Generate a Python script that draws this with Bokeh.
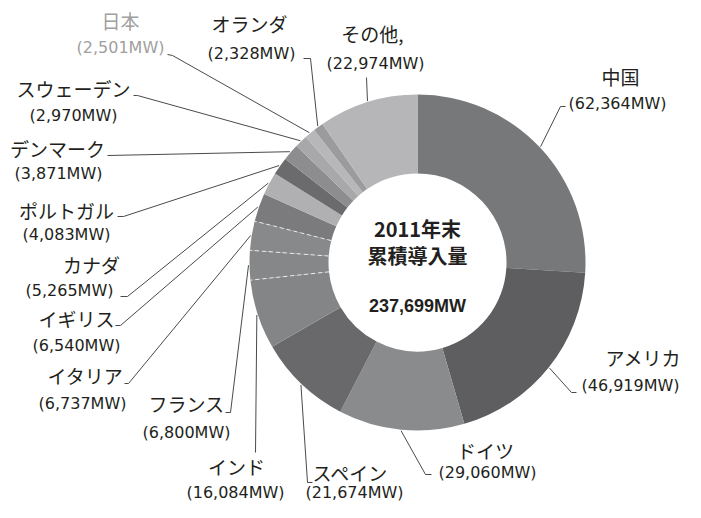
import math
from bokeh.plotting import figure
from bokeh.models import ColumnDataSource, Range1d
from bokeh.core.properties import value
from bokeh.embed import file_html
from bokeh.resources import INLINE

# ---- data ----
countries = ["中国", "アメリカ", "ドイツ", "スペイン", "インド", "フランス", "イタリア",
             "イギリス", "カナダ", "ポルトガル", "デンマーク", "スウェーデン", "日本",
             "オランダ", "その他,"]
capacity_mw = [62364, 46919, 29060, 21674, 16084, 6800, 6737, 6540, 5265, 4083,
               3871, 2970, 2501, 2328, 22974]
value_labels = ["(62,364MW)", "(46,919MW)", "(29,060MW)", "(21,674MW)", "(16,084MW)",
                "(6,800MW)", "(6,737MW)", "(6,540MW)", "(5,265MW)", "(4,083MW)",
                "(3,871MW)", "(2,970MW)", "(2,501MW)", "(2,328MW)", "(22,974MW)"]
center_title = ["2011年末", "累積導入量"]
center_total = "237,699MW"

# ---- styles / layout ----
colors = ["#77787a", "#5e5e60", "#8a8b8d", "#69696b", "#848587", "#868789", "#88898b",
          "#7b7b7d", "#b0b0b2", "#6b6b6d", "#8d8d8f", "#a8a8aa", "#b7b7b9", "#9b9b9d",
          "#b6b6b8"]
text_colors = ["#231f20"] * 12 + ["#a0a0a0", "#231f20", "#231f20"]
W, H = 685, 502
CX, CY = 417, 262          # picture coords of donut centre
R_OUT, R_IN = 168, 89
# name position, value position (picture coords)
name_pos = [(620, 76), (643, 357), (485, 450), (350, 472), (236, 466), (186, 403),
            (85, 375), (76, 318), (91, 264), (66, 210), (57, 148), (73, 88),
            (120, 20), (249, 23), (372, 33)]
val_pos = [(617, 103), (630, 385), (487, 472), (354, 492), (235, 492), (186, 432),
           (82, 403), (76, 345), (69, 290), (66, 234), (58, 173), (73, 115),
           (120, 47), (251, 53), (375, 63)]
# label-side leader points (picture coords)
leader_pts = [[(565, 106), (560, 106)], [(576, 392), (571, 392)],
              [(431, 474), (425, 474)], [(312, 482), (307, 482)],
              [(255, 452)], [(225, 412), (230, 412)], [(124, 383), (128, 383)],
              [(115, 325), (120, 325)], [(120, 296), (127, 296)],
              [(117, 216), (123, 216)], [(107, 155)], [(133, 95), (137, 95)],
              [(167, 54), (172, 55)], [(303, 58), (310, 58)], [(366, 77)]]
dashed_after = [4, 5, 6]

def Y(yi):
    return 518 - yi

p = figure(width=W, height=H, output_backend="svg", toolbar_location=None,
           x_range=Range1d(0, W), y_range=Range1d(518 - H, 518),
           min_border=0)
p.axis.visible = False
p.xgrid.visible = False
p.ygrid.visible = False
p.outline_line_color = None
p.background_fill_color = "white"

total = sum(capacity_mw)
cum = [0]
for v in capacity_mw:
    cum.append(cum[-1] + v)
fr = [c / total for c in cum]
starts = [math.pi / 2 - 2 * math.pi * fr[i + 1] for i in range(len(capacity_mw))]
ends = [math.pi / 2 - 2 * math.pi * fr[i] for i in range(len(capacity_mw))]

src = ColumnDataSource(dict(start=starts, end=ends, color=colors))
p.annular_wedge(x=CX, y=Y(CY), inner_radius=R_IN, outer_radius=R_OUT,
                start_angle="start", end_angle="end", fill_color="color",
                line_color=None, source=src)

# dashed white separators
for i in dashed_after:
    a = 2 * math.pi * fr[i + 1]
    p.segment(x0=CX + R_IN * math.sin(a), y0=Y(CY - R_IN * math.cos(a)),
              x1=CX + R_OUT * math.sin(a), y1=Y(CY - R_OUT * math.cos(a)),
              line_color="white", line_width=1, line_dash="4 3", line_alpha=0.8)

# leader lines
xs, ys = [], []
for i in range(len(capacity_mw)):
    a = 2 * math.pi * (fr[i] + fr[i + 1]) / 2
    ox = CX + (R_OUT + 1) * math.sin(a)
    oy = CY - (R_OUT + 1) * math.cos(a)
    pts = leader_pts[i] + [(ox, oy)]
    xs.append([q[0] for q in pts])
    ys.append([Y(q[1]) for q in pts])
p.multi_line(xs=xs, ys=ys, line_color="#4a4a4a", line_width=1)

jp = value("Noto Sans CJK JP")
names = ColumnDataSource(dict(x=[q[0] for q in name_pos], y=[Y(q[1]) for q in name_pos],
                              t=countries, c=text_colors))
p.text(x="x", y="y", text="t", source=names, text_color="c", text_font=jp,
       text_font_size="19px", text_align="center", text_baseline="middle")
vals = ColumnDataSource(dict(x=[q[0] for q in val_pos], y=[Y(q[1]) for q in val_pos],
                             t=value_labels, c=text_colors))
p.text(x="x", y="y", text="t", source=vals, text_color="c", text_font=value("DejaVu Sans"),
       text_font_size="16px", text_align="center", text_baseline="middle")

p.text(x=[CX, CX], y=[Y(228), Y(255)], text=center_title, text_font=jp,
       text_font_size="20px", text_font_style="bold", text_color="#231f20",
       text_align="center", text_baseline="middle")
p.text(x=[CX], y=[Y(305)], text=[center_total], text_font=value("Liberation Sans"),
       text_font_size="18px", text_font_style="bold", text_color="#231f20",
       text_align="center", text_baseline="middle")

open("out.html", "w").write(file_html(p, INLINE))
